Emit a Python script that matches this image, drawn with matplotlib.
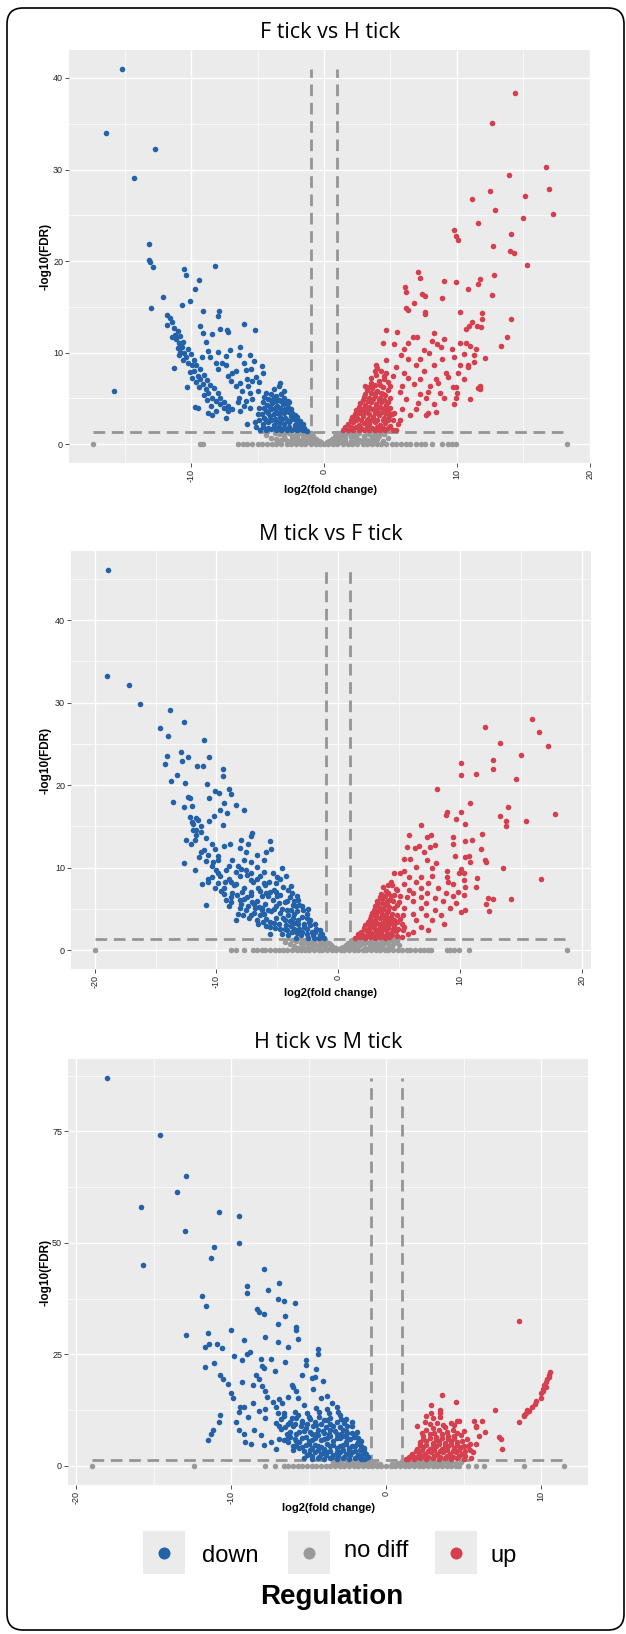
import numpy as np
import matplotlib
matplotlib.use('Agg')
import matplotlib.pyplot as plt
from matplotlib.patches import FancyBboxPatch, Rectangle

plt.rcParams['font.family'] = ['Liberation Sans', 'DejaVu Sans']
plt.rcParams['axes.unicode_minus'] = False

W, H = 626, 1634

DOWN_C = '#2361A9'
UP_C = '#D63F4E'
GREY_C = '#9A9A9A'
LINE_C = '#959595'

FC_CUT = 1.0      # |log2 fold change| threshold
FDR_CUT = 0.05    # FDR threshold

titles = ['F tick vs H tick', 'M tick vs F tick', 'H tick vs M tick']
regulation = ['down', 'no diff', 'up']

# ---- F tick vs H tick ----
p1_down = [
    (-15.2, 41.0), (-16.4, 34.0), (-12.7, 32.2), (-14.3, 29.1), (-13.2, 21.9),
    (-13.2, 20.1), (-13.1, 19.9), (-12.9, 19.3), (-15.8, 5.8), (-12.1, 16.1),
    (-13.0, 14.9), (-10.5, 19.1), (-10.4, 18.5), (-9.4, 17.9), (-9.7, 16.9),
    (-10.1, 15.6), (-10.7, 15.2), (-8.2, 19.5), (-9.1, 14.6), (-7.9, 14.5),
    (-8.0, 14.0), (-9.3, 12.9), (-9.1, 12.1), (-6.0, 13.1), (-5.2, 12.5),
    (-7.8, 12.6), (-7.3, 12.5), (-7.2, 12.3), (-8.9, 11.2), (-8.4, 12.0),
    (-11.8, 14.1), (-11.6, 13.8), (-11.4, 13.4), (-11.8, 13.0), (-11.3, 12.7),
    (-11.2, 11.9), (-11.4, 11.7), (-11.1, 11.5), (-10.9, 11.1), (-10.7, 10.6),
    (-10.5, 10.0), (-10.4, 9.5), (-10.2, 8.9), (-9.9, 8.6), (-9.8, 8.0),
    (-9.5, 7.5), (-9.3, 7.1), (-9.1, 6.6), (-8.9, 6.0), (-8.7, 5.6),
    (-8.4, 5.1), (-8.1, 4.7), (-7.8, 4.4), (-7.5, 4.0), (-7.2, 3.6),
    (-7.4, 2.9), (-11.3, 8.3), (-10.3, 6.2), (-9.7, 4.1), (-9.5, 4.0),
    (-8.7, 3.4), (-8.4, 3.2), (-8.1, 3.6),
    (-11.0, 12.4), (-10.8, 11.8), (-10.6, 11.2), (-10.2, 10.4), (-10.0, 9.8),
    (-9.8, 9.2), (-9.6, 8.7), (-9.3, 8.2), (-9.0, 7.6), (-8.8, 7.0),
    (-8.6, 6.5), (-8.3, 6.1), (-8.0, 5.6), (-7.8, 5.1), (-7.5, 4.6),
    (-7.2, 4.2), (-6.9, 3.8), (-10.8, 10.1), (-10.6, 9.2), (-10.1, 7.9),
    (-9.9, 7.2), (-9.6, 6.8), (-9.4, 6.2), (-9.0, 5.4), (-8.8, 4.8),
    (-8.5, 4.2), (-10.9, 9.7), (-11.0, 10.5),
    (-8.7, 10.2), (-8.0, 10.1), (-9.2, 9.5), (-8.6, 9.5), (-7.4, 9.6),
    (-7.1, 10.3), (-8.1, 8.9), (-7.7, 8.9), (-7.4, 8.7), (-8.0, 8.2),
    (-6.3, 10.6), (-6.4, 9.7), (-5.6, 9.7), (-6.0, 8.9), (-5.3, 9.1),
    (-4.7, 8.5), (-4.6, 7.8), (-6.9, 7.8), (-6.6, 8.0), (-5.9, 8.1),
    (-5.5, 8.2), (-7.2, 7.5), (-7.0, 6.9), (-6.6, 6.4), (-6.3, 6.7),
    (-5.8, 7.1), (-5.4, 6.9), (-5.1, 7.3), (-4.9, 6.8), (-5.7, 6.4),
    (-6.2, 5.8), (-5.6, 5.6), (-5.0, 5.8), (-6.4, 5.1), (-5.9, 4.7),
    (-5.4, 4.9), (-6.0, 4.2), (-5.6, 4.0), (-6.3, 3.6), (-5.8, 2.2),
    (-6.5, 4.6), (-3.3, 6.7), (-3.4, 6.4),
]
p1_down_dense = [
    (-4.8, 1.6), (-4.4, 1.5), (-4.0, 1.7), (-3.6, 1.5), (-3.2, 1.6),
    (-2.8, 1.5), (-2.4, 1.6), (-2.0, 1.5), (-1.6, 1.5), (-1.3, 1.4),
    (-4.6, 2.2), (-4.2, 2.4), (-3.8, 2.1), (-3.4, 2.3), (-3.0, 2.2),
    (-2.6, 2.4), (-2.2, 2.1), (-1.8, 2.0), (-1.5, 1.8), (-4.5, 2.9),
    (-4.1, 3.1), (-3.7, 2.8), (-3.3, 3.0), (-2.9, 2.9), (-2.5, 3.1),
    (-2.1, 2.7), (-1.8, 2.5), (-4.4, 3.6), (-4.0, 3.8), (-3.6, 3.5),
    (-3.2, 3.7), (-2.8, 3.6), (-2.4, 3.4), (-2.2, 3.2), (-4.3, 4.3),
    (-3.9, 4.5), (-3.5, 4.2), (-3.1, 4.4), (-2.7, 4.1), (-2.5, 3.9),
    (-4.2, 4.9), (-3.8, 5.1), (-3.4, 4.8), (-3.0, 5.0), (-2.7, 4.7),
    (-3.6, 5.3), (-4.6, 4.6), (-5.0, 3.3), (-5.2, 2.4), (-4.9, 4.0),
    (-4.4, 5.6), (-4.0, 5.5), (-3.2, 5.5), (-2.6, 4.6),
    (-4.6, 1.9), (-4.2, 1.8), (-3.8, 1.8), (-3.4, 1.9), (-3.0, 1.8),
    (-2.6, 1.9), (-2.2, 1.8), (-1.8, 1.7), (-1.4, 1.6), (-4.4, 2.6),
    (-4.0, 2.7), (-3.6, 2.5), (-3.2, 2.6), (-2.8, 2.6), (-2.4, 2.8),
    (-2.0, 2.3), (-1.6, 2.2), (-4.2, 3.4), (-3.8, 3.3), (-3.4, 3.3),
    (-3.0, 3.4), (-2.6, 3.5), (-2.0, 3.0), (-4.1, 4.1), (-3.7, 4.0),
    (-3.3, 4.0), (-2.9, 3.9), (-4.5, 4.0), (-4.7, 3.3), (-4.9, 2.7),
    (-5.1, 1.9), (-4.0, 4.8), (-3.6, 4.7), (-3.2, 4.7), (-2.9, 4.5),
    (-4.5, 5.2), (-3.0, 5.8), (-3.8, 6.0),
]
p1_up = [
    (14.4, 38.4), (12.6, 35.1), (16.7, 30.3), (13.9, 29.4), (16.9, 27.9),
    (12.5, 27.7), (15.1, 27.1), (11.1, 26.8), (12.9, 25.6), (17.2, 25.1),
    (15.0, 24.7), (11.6, 24.2), (9.8, 23.4), (9.9, 22.7), (10.1, 22.3),
    (14.1, 23.0), (12.7, 21.6), (14.0, 21.1), (14.3, 20.9), (15.3, 19.6),
    (7.1, 18.8), (7.2, 18.2), (9.0, 17.8), (9.9, 17.7), (6.1, 17.2),
    (10.8, 17.0), (11.6, 17.5), (11.7, 18.0), (6.2, 16.6), (7.4, 16.4),
    (7.6, 16.2), (8.9, 16.0), (12.6, 16.3), (12.8, 18.5), (6.8, 15.4),
    (6.2, 14.9), (6.3, 14.7), (7.6, 14.4), (7.6, 14.2), (10.2, 14.4),
    (11.9, 14.3), (11.1, 13.4), (10.9, 12.9), (11.9, 13.7), (11.5, 12.9),
    (11.8, 12.8), (14.1, 13.7), (4.7, 12.5), (5.5, 12.3), (8.3, 12.2),
    (10.7, 12.6), (6.7, 11.7), (7.0, 11.7), (9.0, 11.5), (8.1, 11.3),
    (13.8, 11.7), (4.4, 11.1), (5.3, 10.9), (6.3, 11.1), (8.5, 10.9),
    (8.8, 10.6), (10.7, 11.1), (10.2, 11.1), (11.0, 10.7), (13.3, 10.7),
    (6.0, 10.4), (7.5, 10.3), (9.6, 10.4), (11.4, 10.4), (5.8, 9.7),
    (7.9, 10.0), (7.2, 9.3), (6.3, 9.3), (4.7, 9.2), (8.9, 9.3),
    (9.8, 9.5), (10.5, 9.8), (11.3, 9.7), (12.1, 9.4), (3.9, 8.6),
    (5.4, 8.4), (6.9, 8.6), (8.3, 8.6), (10.2, 8.7), (10.8, 8.6),
    (11.3, 9.0), (3.8, 8.0), (4.7, 7.8), (6.0, 7.8), (7.5, 8.0),
    (9.2, 7.8), (10.1, 7.8), (10.8, 8.4), (3.5, 7.2), (4.5, 7.1),
    (6.3, 7.2), (7.2, 7.1), (8.4, 7.1), (10.5, 7.1), (9.3, 7.3),
    (3.1, 6.4), (5.0, 6.4), (5.9, 6.4), (6.8, 6.6), (8.0, 6.4),
    (8.6, 6.7), (9.9, 6.2), (11.7, 6.4), (11.7, 6.0), (4.4, 5.5),
    (5.7, 5.7), (7.2, 5.5), (7.8, 5.7), (8.7, 5.6), (9.7, 6.2),
    (10.0, 5.6), (11.6, 6.1), (6.2, 4.9), (7.7, 5.1), (9.0, 5.1),
    (9.9, 5.1), (11.0, 4.9), (4.8, 4.6), (7.1, 4.5), (8.3, 4.4),
    (9.8, 4.4), (5.9, 3.8), (6.9, 3.8), (7.7, 3.2), (7.8, 3.4),
    (8.4, 3.5), (5.1, 3.3), (6.5, 3.2), (5.7, 2.6),
]
p1_up_dense = [
    (1.4, 1.5), (1.8, 1.6), (2.2, 1.5), (2.6, 1.6), (3.0, 1.5),
    (3.4, 1.6), (3.8, 1.5), (4.2, 1.6), (4.6, 1.5), (1.8, 2.2),
    (2.2, 2.4), (2.6, 2.1), (3.0, 2.3), (3.4, 2.2), (3.8, 2.4),
    (4.2, 2.1), (4.6, 2.3), (5.0, 2.0), (2.1, 3.0), (2.5, 2.9),
    (2.9, 3.1), (3.3, 2.8), (3.7, 3.0), (4.1, 3.2), (4.5, 2.9),
    (4.9, 3.1), (2.4, 3.7), (2.8, 3.9), (3.2, 3.6), (3.6, 3.8),
    (4.0, 3.7), (4.4, 3.9), (4.8, 3.6), (2.7, 4.5), (3.1, 4.3),
    (3.5, 4.6), (3.9, 4.4), (4.3, 4.6), (4.7, 4.3), (3.0, 5.2),
    (3.4, 5.0), (3.8, 5.3), (4.2, 5.1), (4.6, 5.4), (3.2, 5.9),
    (3.6, 6.1), (4.0, 5.8), (4.4, 6.3), (3.5, 6.7), (4.1, 6.9),
    (4.5, 7.4), (3.9, 7.6), (4.3, 8.0), (4.0, 8.3), (2.0, 1.9),
    (5.2, 2.6), (5.4, 1.6), (5.6, 2.2),
    (1.6, 1.9), (2.0, 1.7), (2.4, 1.9), (2.8, 1.8), (3.2, 1.9),
    (3.6, 1.8), (4.0, 1.9), (4.4, 1.8), (4.8, 1.8), (5.2, 1.5),
    (2.0, 2.6), (2.4, 2.7), (2.8, 2.6), (3.2, 2.6), (3.6, 2.7),
    (4.0, 2.6), (4.4, 2.6), (4.8, 2.6), (5.3, 3.4), (2.3, 3.3),
    (2.6, 3.4), (3.0, 3.4), (3.4, 3.3), (3.8, 3.4), (4.2, 3.4),
    (4.6, 3.4), (5.0, 4.0), (2.6, 4.1), (3.0, 4.0), (3.4, 4.1),
    (3.8, 4.0), (4.2, 4.1), (4.6, 4.0), (2.9, 4.8), (3.3, 4.7),
    (3.7, 4.9), (4.1, 4.8), (4.5, 4.8), (5.0, 5.0), (3.1, 5.5),
    (3.5, 5.6), (3.9, 5.7), (4.3, 5.6), (4.8, 5.9), (3.4, 6.3),
    (3.8, 6.5), (4.2, 6.5), (4.8, 6.8), (5.2, 7.5),
]
p1_nodiff = [
    (-3.4, 1.1), (-3.0, 0.9), (-2.6, 1.2), (-2.2, 1.0), (-1.8, 1.2),
    (-1.4, 1.1), (-1.0, 1.2), (-0.8, 0.9), (-0.6, 0.6), (-0.4, 0.4),
    (-0.2, 0.2), (-3.2, 0.5), (-2.8, 0.3), (-2.4, 0.6), (-2.0, 0.4),
    (-1.6, 0.7), (-1.2, 0.5), (-1.4, 0.2), (-2.6, 0.2), (0.2, 0.2),
    (0.4, 0.4), (0.6, 0.6), (0.8, 0.9), (1.0, 1.2), (1.4, 1.1),
    (1.8, 1.2), (2.2, 1.0), (2.6, 1.2), (3.0, 0.9), (3.4, 1.1),
    (3.8, 1.0), (4.2, 1.2), (1.2, 0.5), (1.6, 0.7), (2.0, 0.4),
    (2.4, 0.6), (2.8, 0.3), (3.2, 0.5), (3.6, 0.3), (4.0, 0.6),
    (1.4, 0.2),
    (-4.4, 1.0), (-4.0, 0.7), (-3.7, 1.2), (-3.6, 0.6), (-3.3, 0.3),
    (-3.0, 1.2), (-2.9, 0.6), (-2.4, 0.9), (-2.2, 0.3), (-2.0, 0.8),
    (-1.8, 0.4), (-1.6, 1.0), (-1.2, 0.9), (-1.0, 0.7), (-0.9, 0.3),
    (-0.6, 0.2), (-1.1, 0.2), (0.6, 0.2), (0.9, 0.4), (1.0, 0.7),
    (1.2, 0.9), (1.1, 0.2), (1.6, 0.3), (1.6, 0.9), (2.0, 0.8),
    (2.2, 0.2), (2.4, 0.9), (2.6, 0.5), (3.0, 0.6), (3.2, 1.2),
    (3.4, 0.4), (3.6, 0.8), (3.9, 0.5), (4.1, 0.9), (4.4, 0.4),
    (4.5, 1.1), (4.8, 0.7),
]
# genes with FDR ~ 1 (-log10 = 0)
p1_nodiff_zero = [
    -17.4, -9.3, -9.1, -6.5, -6.1, -5.8, -5.4, -5.0, -4.7, -4.3, -3.9, -3.6,
    -3.2, -2.8, -2.5, -2.1, -1.7, -1.4, -1.0, -0.6, -0.3, 0.0, 0.3, 0.7, 1.0,
    1.4, 1.8, 2.1, 2.5, 2.9, 3.2, 3.6, 4.0, 4.3, 4.7, 5.1, 5.4, 5.8, 6.2, 6.5,
    6.9, 7.3, 7.6, 8.1, 8.9, 9.3, 9.6, 9.9, 18.3,
]

# ---- M tick vs F tick ----
p2_down = [
    (-18.9, 46.1), (-19.0, 33.2), (-17.2, 32.1), (-16.3, 29.8), (-13.8, 29.1),
    (-12.7, 27.6), (-14.6, 26.9), (-14.0, 26.0), (-11.0, 25.5), (-12.9, 24.0),
    (-14.1, 23.5), (-12.3, 23.4), (-10.6, 23.4), (-12.8, 22.9), (-14.2, 22.6),
    (-11.6, 22.3), (-11.1, 22.3), (-9.5, 22.0), (-13.2, 21.2), (-9.5, 21.1),
    (-13.7, 20.5), (-12.6, 20.2), (-10.8, 20.1), (-9.0, 19.5), (-10.1, 19.3),
    (-9.8, 19.1), (-8.8, 18.9), (-12.3, 18.6), (-12.2, 18.4), (-10.6, 18.4),
    (-9.4, 17.8), (-13.6, 18.0), (-12.0, 17.5), (-8.4, 17.6), (-12.7, 17.3),
    (-9.7, 17.0), (-7.7, 17.0), (-9.1, 16.6), (-10.2, 16.3), (-10.6, 15.7),
    (-11.7, 16.0), (-11.5, 15.8), (-12.0, 15.5), (-9.5, 15.2), (-11.3, 15.0),
    (-11.7, 14.6), (-11.3, 14.3), (-7.1, 14.2), (-11.7, 13.9), (-7.2, 13.8),
    (-12.5, 13.3), (-11.8, 13.3), (-5.6, 13.2), (-8.0, 13.3), (-8.9, 12.9),
    (-7.4, 12.9), (-10.4, 12.9), (-9.4, 12.6), (-5.5, 12.2), (-11.0, 12.1),
    (-8.1, 12.4), (-11.3, 11.9), (-7.6, 11.9), (-5.9, 11.9), (-10.7, 11.5),
    (-6.7, 11.5), (-9.9, 10.9), (-8.7, 10.9), (-7.7, 10.9), (-7.2, 10.7),
    (-6.1, 10.9), (-12.7, 10.6), (-10.4, 10.2), (-8.2, 10.2), (-6.7, 10.1),
    (-4.6, 9.9), (-11.8, 9.7), (-10.0, 9.7), (-9.2, 9.7), (-7.6, 9.7),
    (-5.4, 9.4), (-9.7, 9.0), (-8.1, 9.0), (-6.4, 9.0), (-4.3, 9.0),
    (-10.7, 8.6), (-9.0, 8.6), (-7.2, 8.5), (-4.8, 8.6), (-10.7, 8.3),
    (-9.9, 8.1), (-8.4, 8.0), (-6.1, 8.1), (-5.1, 8.1), (-9.4, 7.5),
    (-7.7, 7.5), (-6.6, 7.5), (-5.3, 7.3), (-4.1, 7.3), (-8.7, 6.9),
    (-7.2, 6.7), (-5.9, 6.9), (-4.8, 6.7), (-3.8, 6.9), (-9.2, 6.1),
    (-8.1, 6.1), (-6.7, 6.0), (-5.4, 6.1), (-4.2, 6.0), (-3.3, 6.1),
    (-9.0, 5.3), (-8.1, 5.1), (-7.4, 5.3), (-6.3, 5.1), (-5.1, 5.3),
    (-3.5, 5.3), (-10.9, 5.5), (-8.2, 4.4), (-7.2, 4.2), (-6.1, 4.4),
    (-4.8, 4.5), (-3.6, 4.4), (-2.6, 4.4), (-8.4, 3.6), (-6.7, 3.6),
    (-5.6, 3.4), (-4.4, 3.6), (-3.3, 3.6), (-2.3, 3.6), (-5.6, 2.0),
    (-4.8, 2.6), (-3.6, 2.6), (-2.6, 2.6), (-1.8, 2.6), (-4.1, 1.8),
    (-3.1, 1.8), (-2.1, 1.8), (-1.5, 1.8), (-3.5, 1.4), (-2.5, 1.4),
    (-1.6, 1.4), (-1.2, 1.4),
]
p2_down_dense = [
    (-4.4, 5.8), (-4.0, 6.4), (-3.6, 5.9), (-3.2, 5.5), (-2.9, 4.9),
    (-3.9, 4.9), (-4.5, 3.9), (-4.1, 4.2), (-3.7, 3.9), (-3.0, 4.0),
    (-2.8, 3.2), (-2.3, 3.0), (-1.9, 2.2), (-4.3, 3.0), (-3.9, 2.9),
    (-3.3, 3.1), (-2.0, 1.5), (-4.6, 2.0), (-5.2, 2.7), (-5.9, 2.9),
    (-6.2, 3.4), (-5.1, 3.9), (-6.9, 4.5), (-7.6, 4.9), (-8.8, 5.8),
    (-9.6, 7.2), (-10.1, 7.5), (-10.4, 8.9), (-11.2, 8.0), (-9.3, 8.3),
    (-8.6, 7.9), (-7.9, 7.0), (-7.5, 6.4), (-6.9, 5.6), (-6.5, 5.2),
    (-6.0, 5.6), (-5.8, 6.6), (-5.0, 6.5), (-6.4, 7.2), (-7.0, 8.3),
    (-7.5, 9.1), (-8.4, 9.5), (-9.0, 10.2), (-9.9, 11.4), (-10.1, 12.2),
    (-10.9, 10.8), (-11.4, 11.3), (-12.1, 12.8), (-11.9, 14.6), (-12.2, 16.1),
    (-11.9, 15.3), (-10.9, 13.6),
    (-2.2, 2.2), (-2.6, 2.0), (-3.0, 2.2), (-3.4, 2.1), (-3.8, 2.2),
    (-4.2, 2.4), (-2.4, 3.4), (-2.8, 2.8), (-3.2, 2.6), (-3.6, 3.3),
    (-4.0, 3.5), (-4.4, 2.6), (-4.9, 3.2), (-5.3, 3.3), (-5.6, 2.8),
    (-5.9, 3.8), (-6.4, 4.2), (-5.5, 4.7), (-4.6, 5.0), (-4.2, 4.8),
    (-3.4, 4.7), (-2.6, 3.9), (-3.0, 5.3), (-3.7, 5.4), (-4.9, 5.7),
    (-5.3, 5.0), (-5.8, 4.8), (-6.3, 4.9), (-6.8, 5.1), (-7.1, 5.8),
    (-7.7, 6.2), (-8.3, 6.7), (-8.0, 5.6), (-8.8, 6.4), (-9.4, 6.8),
    (-7.2, 7.0), (-6.3, 6.5), (-5.6, 7.0), (-4.5, 7.7), (-5.1, 7.0),
    (-6.0, 7.9), (-6.7, 8.6), (-5.7, 8.3), (-8.8, 8.2), (-9.9, 9.3),
    (-10.3, 10.7), (-8.0, 9.8), (-7.2, 9.3), (-6.1, 9.5), (-5.0, 8.9),
    (-3.9, 7.8), (-3.4, 6.6), (-2.5, 5.0), (-1.9, 3.2), (-1.5, 2.4),
    (-1.3, 1.9), (-7.3, 3.9), (-6.6, 3.1), (-7.8, 4.3),
]
p2_up = [
    (15.9, 28.0), (12.0, 27.1), (16.5, 26.4), (17.2, 24.8), (13.3, 25.1),
    (15.0, 23.6), (12.7, 23.1), (10.1, 22.7), (12.7, 21.9), (10.1, 21.2),
    (11.3, 21.4), (14.6, 20.8), (8.1, 19.5), (10.8, 17.8), (13.9, 17.4),
    (10.1, 16.8), (8.9, 16.7), (8.8, 16.4), (17.8, 16.5), (13.3, 16.2),
    (13.8, 15.7), (15.4, 15.7), (9.7, 15.9), (10.4, 15.3), (13.8, 15.0),
    (6.8, 15.2), (5.8, 13.9), (7.6, 14.0), (11.8, 14.1), (9.4, 13.7),
    (9.4, 12.9), (7.3, 13.7), (10.4, 13.2), (11.0, 13.4), (5.6, 12.5),
    (6.3, 12.4), (6.6, 12.6), (7.5, 12.5), (7.9, 12.7), (11.7, 12.2),
    (7.0, 11.9), (5.4, 11.1), (5.9, 11.1), (7.3, 10.9), (9.6, 11.4),
    (10.4, 11.3), (10.7, 11.4), (12.0, 10.9), (12.1, 10.7), (10.8, 10.7),
    (8.0, 10.5), (6.4, 10.1), (7.7, 9.9), (10.1, 9.8), (13.5, 9.9),
    (5.4, 9.6), (8.9, 9.6), (10.3, 9.4), (9.9, 9.3), (4.6, 9.4),
    (5.1, 9.4), (6.8, 8.8), (7.7, 9.0), (8.9, 8.9), (16.6, 8.6),
    (11.4, 8.7), (5.8, 8.8), (10.3, 8.5), (4.3, 8.2), (6.4, 8.2),
    (7.4, 8.1), (9.0, 8.2), (9.4, 8.0), (5.4, 8.0), (11.3, 7.6),
    (10.4, 7.6), (8.2, 7.5), (6.8, 7.5), (4.8, 7.3), (6.1, 6.9),
    (7.3, 6.9), (8.8, 6.9), (9.8, 7.0), (4.1, 6.9), (5.1, 6.5),
    (6.8, 6.4), (7.9, 6.3), (9.4, 6.5), (10.3, 6.7), (12.3, 6.3),
    (12.7, 6.2), (14.2, 6.2), (6.1, 5.9), (7.2, 5.7), (8.6, 6.0),
    (9.7, 5.7), (12.1, 5.6), (4.8, 5.5), (5.4, 5.1), (6.8, 5.1),
    (7.9, 4.8), (9.2, 5.1), (10.4, 4.8), (10.1, 4.6), (12.4, 4.7),
    (6.1, 4.4), (7.2, 4.2), (8.4, 4.2), (5.1, 3.8), (6.4, 3.7),
    (7.7, 3.6), (8.7, 3.2), (5.4, 2.8), (6.8, 2.8), (7.4, 2.4),
    (6.1, 2.2),
]
p2_up_dense = [
    (1.4, 1.5), (1.8, 1.6), (2.2, 1.5), (2.6, 1.6), (3.0, 1.5),
    (3.4, 1.6), (3.8, 1.5), (4.2, 1.6), (1.9, 2.2), (2.3, 2.4),
    (2.7, 2.1), (3.1, 2.3), (3.5, 2.2), (3.9, 2.4), (4.3, 2.1),
    (4.7, 2.3), (2.2, 3.0), (2.6, 2.9), (3.0, 3.1), (3.4, 2.8),
    (3.8, 3.0), (4.2, 3.2), (4.6, 2.9), (2.6, 3.8), (3.0, 3.7),
    (3.4, 3.9), (3.8, 3.6), (4.2, 3.8), (4.6, 3.7), (2.8, 4.5),
    (3.2, 4.6), (3.6, 4.4), (4.0, 4.6), (4.4, 4.4), (3.0, 5.3),
    (3.4, 5.1), (3.8, 5.4), (4.2, 5.2), (3.2, 6.0), (3.6, 6.2),
    (4.0, 5.9), (3.5, 6.8), (3.9, 7.2), (4.3, 6.6), (4.1, 7.9),
    (3.7, 7.6),
    (1.6, 1.9), (2.0, 1.8), (2.4, 1.9), (2.8, 1.8), (3.2, 1.9),
    (3.6, 1.8), (4.0, 1.9), (4.4, 1.8), (4.8, 1.7), (5.2, 1.6),
    (2.1, 2.7), (2.5, 2.6), (2.9, 2.7), (3.3, 2.5), (3.7, 2.6),
    (4.1, 2.7), (4.5, 2.6), (4.9, 2.5), (5.3, 2.4), (5.7, 2.0),
    (2.4, 3.4), (2.8, 3.4), (3.2, 3.3), (3.6, 3.3), (4.0, 3.3),
    (4.4, 3.3), (4.8, 3.4), (5.2, 3.2), (2.7, 4.1), (3.1, 4.1),
    (3.5, 4.0), (3.9, 4.1), (4.3, 4.0), (4.8, 4.2), (5.3, 4.3),
    (2.9, 4.9), (3.3, 4.9), (3.7, 5.0), (4.1, 4.9), (4.6, 5.1),
    (5.0, 5.8), (3.2, 5.6), (3.6, 5.7), (4.0, 5.6), (4.5, 5.9),
    (3.4, 6.4), (3.8, 6.5), (4.2, 6.1), (4.6, 6.7), (5.6, 6.4),
    (5.8, 7.3), (4.7, 7.4), (4.4, 7.9),
]
p2_nodiff = [
    (-3.5, 1.1), (-3.1, 0.9), (-2.7, 1.2), (-2.3, 1.0), (-1.9, 1.2),
    (-1.5, 1.1), (-1.1, 1.2), (-0.8, 0.9), (-0.6, 0.6), (-0.4, 0.4),
    (-0.2, 0.2), (-3.0, 0.5), (-2.5, 0.3), (-2.1, 0.6), (-1.6, 0.4),
    (-1.2, 0.6), (-2.8, 0.2), (0.2, 0.2), (0.4, 0.4), (0.6, 0.6),
    (0.8, 0.9), (1.1, 1.2), (1.5, 1.1), (1.9, 1.2), (2.3, 1.0),
    (2.7, 1.2), (3.1, 0.9), (3.5, 1.1), (3.9, 1.0), (4.3, 1.2),
    (4.6, 0.9), (1.3, 0.5), (1.8, 0.6), (2.2, 0.3), (2.7, 0.5),
    (3.2, 0.4), (3.7, 0.6), (4.1, 0.3),
    (-4.4, 1.0), (-4.0, 0.7), (-3.8, 1.2), (-3.6, 0.5), (-3.3, 0.3),
    (-2.9, 0.8), (-2.5, 0.7), (-2.2, 0.3), (-2.0, 0.9), (-1.8, 0.6),
    (-1.4, 0.8), (-1.0, 0.9), (-1.0, 0.3), (-0.7, 0.2), (0.7, 0.2),
    (1.0, 0.4), (1.0, 0.8), (1.3, 0.9), (1.5, 0.3), (1.7, 0.9),
    (2.1, 0.8), (2.5, 0.8), (2.5, 0.2), (2.9, 0.7), (3.0, 0.2),
    (3.3, 0.7), (3.5, 0.3), (3.7, 1.2), (4.1, 0.8), (4.4, 0.5),
    (4.8, 1.1), (5.0, 0.6),
]
p2_nodiff_zero = [
    -20.0, -8.8, -8.4, -7.7, -7.0, -6.7, -6.3, -6.0, -5.6, -5.2, -4.9, -4.5,
    -4.2, -3.8, -3.4, -3.1, -2.7, -2.4, -2.0, -1.6, -1.3, -0.9, -0.5, -0.2,
    0.2, 0.5, 0.9, 1.3, 1.6, 2.0, 2.3, 2.7, 3.1, 3.4, 3.8, 4.1, 4.5, 4.9, 5.2,
    5.6, 5.9, 6.3, 6.7, 7.0, 7.4, 7.6, 8.9, 9.2, 9.5, 9.9, 10.7, 18.8,
]

# ---- H tick vs M tick ----
p3_down = [
    (-18.0, 86.9), (-14.6, 74.3), (-12.9, 65.0), (-13.5, 61.3), (-15.8, 58.1),
    (-10.8, 57.0), (-9.5, 56.0), (-13.0, 52.6), (-9.5, 50.0), (-11.1, 49.0),
    (-11.3, 46.6), (-15.7, 45.1), (-7.9, 44.1), (-6.9, 40.9), (-9.0, 40.4),
    (-9.0, 38.8), (-7.6, 39.3), (-11.9, 38.1), (-7.0, 37.4), (-6.6, 36.9),
    (-11.6, 35.8), (-5.9, 36.4), (-8.3, 35.1), (-8.2, 34.4), (-7.9, 34.0),
    (-6.5, 33.6), (-7.0, 31.7), (-5.8, 31.1), (-5.8, 30.4), (-10.0, 30.4),
    (-11.5, 29.8), (-12.9, 29.3), (-7.8, 28.9), (-5.7, 28.5), (-9.2, 28.3),
    (-7.0, 27.8), (-11.4, 27.2), (-10.9, 27.4), (-11.7, 26.7), (-10.6, 26.4),
    (-6.3, 26.6), (-4.4, 26.1), (-4.4, 25.1), (-8.8, 25.5), (-9.0, 25.0),
    (-9.8, 24.7), (-8.1, 24.0), (-7.4, 23.9), (-9.3, 23.6), (-6.5, 23.3),
    (-5.2, 23.7), (-11.1, 23.0), (-8.0, 22.4), (-7.9, 21.8), (-5.2, 22.5),
    (-4.5, 21.6), (-11.7, 22.2), (-7.2, 21.2), (-8.4, 20.4), (-5.4, 20.3),
    (-10.7, 20.4), (-10.5, 19.4), (-8.2, 19.4), (-4.8, 19.6), (-4.6, 19.8),
    (-9.3, 18.8), (-10.2, 18.3), (-6.1, 18.1), (-6.0, 17.6), (-4.1, 19.0),
    (-8.6, 18.1), (-8.0, 17.8), (-7.8, 16.7), (-5.8, 16.7), (-4.7, 17.3),
    (-10.0, 16.4), (-7.7, 15.4), (-9.9, 15.2), (-6.9, 14.9), (-5.7, 15.1),
    (-3.8, 15.6), (-4.2, 15.1), (-8.6, 14.0), (-7.3, 14.3), (-6.3, 15.4),
    (-9.4, 13.2), (-9.2, 13.1), (-7.8, 12.8), (-7.1, 13.1), (-6.7, 14.0),
    (-5.3, 13.6), (-4.5, 13.0), (-3.8, 12.8), (-3.2, 13.2), (-3.5, 14.0),
    (-9.5, 12.1), (-8.2, 12.2), (-7.0, 11.7), (-6.6, 11.7), (-5.9, 12.1),
    (-5.1, 11.7), (-4.3, 12.1), (-3.7, 11.7), (-3.1, 12.1), (-10.7, 11.3),
    (-8.9, 10.9), (-7.8, 10.7), (-6.8, 10.4), (-5.8, 10.6), (-4.9, 10.4),
    (-4.0, 10.2), (-2.9, 10.4), (-10.8, 9.9), (-9.7, 9.9), (-7.1, 9.5),
    (-6.3, 9.3), (-5.4, 9.5), (-4.5, 9.1), (-3.6, 9.3), (-2.7, 9.5),
    (-11.2, 7.9), (-11.3, 7.2), (-11.5, 5.7), (-9.5, 7.9), (-9.2, 7.2),
    (-9.1, 5.3), (-8.5, 7.9), (-8.1, 6.8), (-8.7, 4.9), (-7.9, 4.6),
    (-7.4, 5.3), (-6.9, 6.0), (-6.4, 5.9), (-7.1, 3.8), (-6.0, 3.4),
    (-5.1, 2.3),
]
p3_down_dense = [
    (-6.8, 8.2), (-6.4, 7.0), (-6.0, 8.8), (-5.6, 7.5), (-5.2, 8.4),
    (-4.8, 7.1), (-4.4, 8.0), (-4.0, 7.4), (-3.6, 8.1), (-3.2, 7.2),
    (-2.8, 8.0), (-2.5, 7.3), (-6.6, 5.8), (-6.2, 6.4), (-5.8, 5.5),
    (-5.4, 6.2), (-5.0, 5.6), (-4.6, 6.3), (-4.2, 5.7), (-3.8, 6.2),
    (-3.4, 5.5), (-3.0, 6.1), (-2.6, 5.4), (-2.3, 6.0), (-6.0, 4.3),
    (-5.6, 3.9), (-5.2, 4.6), (-4.8, 4.0), (-4.4, 4.5), (-4.0, 3.8),
    (-3.6, 4.4), (-3.2, 3.9), (-2.8, 4.6), (-2.4, 4.0), (-2.0, 4.4),
    (-5.0, 2.6), (-4.6, 3.1), (-4.2, 2.5), (-3.8, 3.0), (-3.4, 2.4),
    (-3.0, 3.1), (-2.6, 2.6), (-2.2, 3.0), (-1.8, 2.4), (-1.5, 2.9),
    (-4.4, 1.7), (-4.0, 1.5), (-3.6, 1.8), (-3.2, 1.5), (-2.8, 1.8),
    (-2.4, 1.5), (-2.0, 1.8), (-1.6, 1.5), (-1.3, 1.7), (-6.2, 9.8),
    (-5.4, 10.0), (-4.6, 9.7), (-3.8, 10.2), (-3.2, 9.8), (-2.6, 10.4),
    (-2.2, 8.8), (-2.0, 6.8), (-1.8, 5.2), (-1.6, 3.8),
    (-6.6, 11.2), (-6.1, 10.8), (-5.7, 11.3), (-5.0, 10.9), (-4.3, 11.0),
    (-3.6, 10.8), (-3.0, 11.3), (-6.9, 9.0), (-6.5, 8.6), (-5.9, 9.4),
    (-5.5, 8.9), (-5.1, 9.3), (-4.7, 8.8), (-4.2, 9.4), (-3.9, 8.7),
    (-3.4, 9.0), (-3.0, 8.6), (-2.5, 8.9), (-2.2, 9.9), (-6.2, 7.6),
    (-5.8, 7.2), (-5.3, 7.7), (-4.9, 7.6), (-4.5, 7.2), (-4.1, 7.8),
    (-3.7, 7.0), (-3.3, 7.7), (-2.9, 7.1), (-2.6, 7.7), (-2.2, 7.3),
    (-1.9, 7.6), (-6.3, 5.2), (-5.9, 6.0), (-5.6, 5.3), (-5.2, 6.5),
    (-4.8, 5.8), (-4.4, 6.8), (-4.0, 6.0), (-3.6, 6.7), (-3.2, 6.3),
    (-2.8, 6.7), (-2.5, 6.3), (-2.1, 6.4), (-1.8, 6.2), (-1.6, 5.6),
    (-5.8, 4.5), (-5.4, 4.2), (-5.0, 4.9), (-4.6, 4.6), (-4.2, 4.2),
    (-3.8, 4.8), (-3.4, 4.6), (-3.0, 4.3), (-2.6, 4.9), (-2.2, 4.5),
    (-1.9, 4.9), (-1.6, 4.5), (-1.4, 4.0), (-1.4, 3.2), (-5.3, 3.2),
    (-4.9, 3.6), (-4.4, 3.4), (-4.0, 3.3), (-3.6, 3.2), (-3.2, 3.0),
    (-2.8, 3.4), (-2.4, 3.5), (-2.0, 3.3), (-1.7, 3.4), (-1.3, 2.5),
    (-1.2, 2.0), (-4.8, 2.1), (-4.3, 2.0), (-3.9, 2.4), (-3.5, 1.9),
    (-3.1, 2.2), (-2.7, 2.0), (-2.3, 2.3), (-1.9, 1.9), (-1.6, 2.2),
    (-1.4, 1.5), (-4.8, 1.5), (-5.3, 1.7),
]
p3_up = [
    (8.6, 32.5), (10.6, 21.0), (10.5, 20.3), (10.5, 19.9), (10.4, 19.4),
    (10.3, 18.8), (10.2, 18.1), (10.3, 17.7), (10.1, 17.3), (10.1, 16.7),
    (10.0, 16.2), (10.0, 15.1), (9.7, 14.5), (9.6, 13.8), (9.4, 13.2),
    (9.2, 12.2), (9.1, 12.4), (9.0, 11.9), (8.9, 11.4), (8.9, 11.2),
    (8.6, 9.9), (7.0, 12.5), (7.3, 6.4), (7.4, 6.0), (7.5, 3.7),
    (6.4, 7.5), (6.0, 6.6), (5.8, 4.9), (5.7, 10.1), (6.2, 10.1),
    (5.8, 9.0), (4.5, 14.3), (4.6, 10.1), (2.9, 13.7), (3.5, 11.9),
    (3.6, 15.8), (3.5, 12.5), (2.9, 11.7), (3.0, 10.7), (2.5, 9.9),
    (3.5, 11.0), (3.7, 9.1), (4.4, 9.1), (4.7, 10.1), (5.8, 8.7),
    (5.0, 7.8), (4.9, 5.5), (5.3, 4.4), (4.4, 6.2),
]
p3_up_dense = [
    (1.4, 1.6), (1.8, 1.5), (2.2, 1.7), (2.6, 1.5), (3.0, 1.8),
    (3.4, 1.5), (3.8, 1.7), (4.2, 1.5), (4.6, 1.8), (5.0, 1.6),
    (1.7, 2.6), (2.1, 2.9), (2.5, 2.5), (2.9, 3.0), (3.3, 2.6),
    (3.7, 3.1), (4.1, 2.7), (4.5, 3.0), (4.9, 2.6), (2.0, 3.8),
    (2.4, 4.2), (2.8, 3.7), (3.2, 4.3), (3.6, 3.8), (4.0, 4.4),
    (4.4, 3.9), (4.8, 4.2), (2.2, 5.2), (2.6, 5.6), (3.0, 5.0),
    (3.4, 5.5), (3.8, 5.1), (4.2, 5.6), (4.6, 5.2), (2.4, 6.6),
    (2.8, 7.0), (3.2, 6.5), (3.6, 7.1), (4.0, 6.7), (4.8, 6.9),
    (2.6, 8.0), (3.0, 8.5), (3.4, 7.9), (3.8, 8.6), (4.3, 8.1),
    (2.8, 9.3), (3.3, 9.6), (5.2, 5.9), (5.4, 3.6), (1.6, 2.1),
    (2.0, 9.0),
    (1.3, 1.4), (1.5, 1.9), (1.9, 1.9), (2.3, 2.1), (2.7, 2.0),
    (3.1, 2.2), (3.5, 2.0), (3.9, 2.2), (4.3, 2.0), (4.7, 2.2),
    (5.1, 2.1), (5.5, 1.8), (1.9, 3.3), (2.3, 3.4), (2.7, 3.3),
    (3.1, 3.5), (3.5, 3.3), (3.9, 3.5), (4.3, 3.3), (4.7, 3.6),
    (5.1, 3.3), (5.6, 3.0), (2.2, 4.6), (2.6, 4.7), (3.0, 4.4),
    (3.4, 4.8), (3.8, 4.5), (4.2, 4.8), (4.6, 4.6), (5.0, 4.4),
    (5.4, 4.9), (2.4, 5.9), (2.8, 6.1), (3.2, 5.8), (3.6, 6.3),
    (4.0, 5.9), (4.4, 6.6), (4.6, 7.4), (3.9, 7.6), (3.1, 7.4),
    (2.3, 7.3), (4.2, 9.5), (2.6, 11.2),
]
p3_nodiff = [
    (-3.0, 1.0), (-2.6, 1.2), (-2.2, 0.9), (-1.8, 1.1), (-1.4, 1.2),
    (-1.0, 1.1), (-0.7, 0.7), (-0.4, 0.4), (0.4, 0.4), (0.7, 0.7),
    (1.0, 1.1), (1.4, 1.2), (1.8, 1.0), (2.2, 1.2), (2.6, 0.9),
    (3.0, 1.1), (3.4, 1.0), (-2.4, 0.5), (-1.6, 0.6), (1.6, 0.5),
    (2.4, 0.6), (3.0, 0.4),
    (-3.4, 0.7), (-3.2, 0.3), (-2.9, 0.6), (-2.6, 0.4), (-2.3, 0.8),
    (-2.0, 1.0), (-2.0, 0.2), (-1.7, 0.8), (-1.5, 0.3), (-1.3, 0.8),
    (-1.2, 0.4), (-0.9, 0.5), (-0.8, 0.2), (-0.5, 0.1), (0.5, 0.1),
    (0.8, 0.3), (0.9, 0.5), (1.2, 0.8), (1.2, 0.3), (1.5, 0.8),
    (1.9, 0.6), (2.1, 0.2), (2.0, 0.9), (2.4, 1.0), (2.8, 0.6),
    (3.2, 0.9), (3.6, 0.6), (3.8, 1.1), (4.0, 0.3), (4.2, 0.8),
    (4.5, 0.5), (4.8, 0.9), (2.7, 0.2), (3.4, 0.2),
]
p3_nodiff_zero = [
    -19.0, -12.4, -7.8, -7.2, -6.6, -6.3, -6.0, -5.7, -5.4, -5.1, -4.8, -4.5,
    -4.2, -3.9, -3.6, -3.3, -3.0, -2.7, -2.4, -2.1, -1.8, -1.5, -1.2, -0.9,
    -0.6, -0.3, 0.0, 0.3, 0.6, 0.9, 1.2, 1.5, 1.8, 2.1, 2.4, 2.7, 3.0, 3.3,
    3.6, 3.9, 4.2, 4.5, 4.7, 5.3, 5.8, 6.3, 8.9, 11.5,
]

p1_xticks, p1_yticks = [-10, 0, 10, 20], [0, 10, 20, 30, 40]
p2_xticks, p2_yticks = [-20, -10, 0, 10, 20], [0, 10, 20, 30, 40]
p3_xticks, p3_yticks = [-20, -10, 0, 10], [0, 25, 50, 75]


fig = plt.figure(figsize=(W / 100, H / 100), dpi=100)

# background axes in pixel units: outer frame + legend
bg = fig.add_axes([0, 0, 1, 1], zorder=-1)
bg.set_xlim(0, W)
bg.set_ylim(H, 0)
bg.axis('off')
bg.add_patch(FancyBboxPatch((7, 8), 617, 1622, boxstyle='round,pad=0,rounding_size=16',
                            fc='white', ec='black', lw=1.2))


def expand(lo, hi):
    pad = (hi - lo) * 0.05
    return lo - pad, hi + pad


def minors(ticks, lim):
    step = ticks[1] - ticks[0]
    m = np.arange(ticks[0] - step / 2, ticks[-1] + step, step)
    return m[(m > lim[0]) & (m < lim[1])]


def volcano(box, title, down, up, nodiff, zero, xticks, yticks, ylab_x, xlab_y):
    l, t, r, b = box
    ax = fig.add_axes([l / W, 1 - b / H, (r - l) / W, (b - t) / H])
    ax.set_facecolor('#EBEBEB')
    for s in ax.spines.values():
        s.set_visible(False)

    down = np.array(down)
    up = np.array(up)
    nd = np.vstack([np.array(nodiff), np.column_stack([zero, np.zeros(len(zero))])])
    pts = np.vstack([down, up, nd])
    xmin, xmax = pts[:, 0].min(), pts[:, 0].max()
    ymax = pts[:, 1].max()
    xlim = expand(xmin, xmax)
    ylim = expand(0, ymax)

    # thresholds
    fdr_line = -np.log10(FDR_CUT)
    dash = dict(color=LINE_C, lw=2.0, dashes=(4.2, 2.4), zorder=2)
    ax.plot([-FC_CUT, -FC_CUT], [0, ymax], **dash)
    ax.plot([FC_CUT, FC_CUT], [0, ymax], **dash)
    ax.plot([xmin, xmax], [fdr_line, fdr_line], **dash)

    ax.scatter(nd[:, 0], nd[:, 1], s=16, c=GREY_C, lw=0, zorder=3)
    ax.scatter(down[:, 0], down[:, 1], s=16, c=DOWN_C, lw=0, zorder=3)
    ax.scatter(up[:, 0], up[:, 1], s=16, c=UP_C, lw=0, zorder=3)

    ax.set_xlim(xlim)
    ax.set_ylim(ylim)
    ax.set_xticks(xticks)
    ax.set_yticks(yticks)
    ax.set_xticks(minors(xticks, xlim), minor=True)
    ax.set_yticks(minors(yticks, ylim), minor=True)
    ax.set_xticklabels([str(v) for v in xticks], rotation=90)
    ax.grid(which='major', color='white', lw=1.0)
    ax.grid(which='minor', color='white', lw=0.5)
    ax.set_axisbelow(True)
    ax.tick_params(which='major', length=2.75, width=0.6, color='#333333',
                   labelsize=6.5, labelcolor='#222222', pad=1.5)
    ax.tick_params(which='minor', length=0)

    ax.set_xlabel('log2(fold change)', fontsize=8, fontweight='bold')
    ax.xaxis.label.set_va('center')
    ax.xaxis.set_label_coords(0.5, -(xlab_y - b) / (b - t))
    ax.set_ylabel('-log10(FDR)', fontsize=8.5, fontweight='bold')
    ax.yaxis.label.set_va('center')
    ax.yaxis.set_label_coords((ylab_x - l) / (r - l), 0.5)

    fig.text((l + r) / 2 / W, 1 - (t - 17) / H, title, ha='center', va='center',
             fontsize=15.5, family=['Open Sans', 'DejaVu Sans'])
    return ax


volcano((69, 50, 591, 463), titles[0], p1_down + p1_down_dense, p1_up + p1_up_dense,
        p1_nodiff, p1_nodiff_zero, p1_xticks, p1_yticks, 45, 490)
volcano((71, 551, 591, 969), titles[1], p2_down + p2_down_dense, p2_up + p2_up_dense,
        p2_nodiff, p2_nodiff_zero, p2_xticks, p2_yticks, 45, 993)
volcano((68, 1059, 588, 1485), titles[2], p3_down + p3_down_dense, p3_up + p3_up_dense,
        p3_nodiff, p3_nodiff_zero, p3_xticks, p3_yticks, 45, 1508)

# legend
key_x = [143, 288, 435]
key_c = [DOWN_C, GREY_C, UP_C]
text_x = [202, 344, 490]
text_y = [1562, 1557, 1562]
for kx, c, lab, tx, ty in zip(key_x, key_c, regulation, text_x, text_y):
    bg.add_patch(Rectangle((kx, 1531), 42, 43, fc='#EBEBEB', ec='none'))
    bg.scatter([kx + 21], [1553], s=75, c=c, lw=0)
    bg.text(tx, ty, lab, fontsize=17, ha='left', va='baseline')
bg.text(332, 1597, 'Regulation', fontsize=20, fontweight='bold', ha='center', va='center')

fig.savefig('out.png', dpi=100)
